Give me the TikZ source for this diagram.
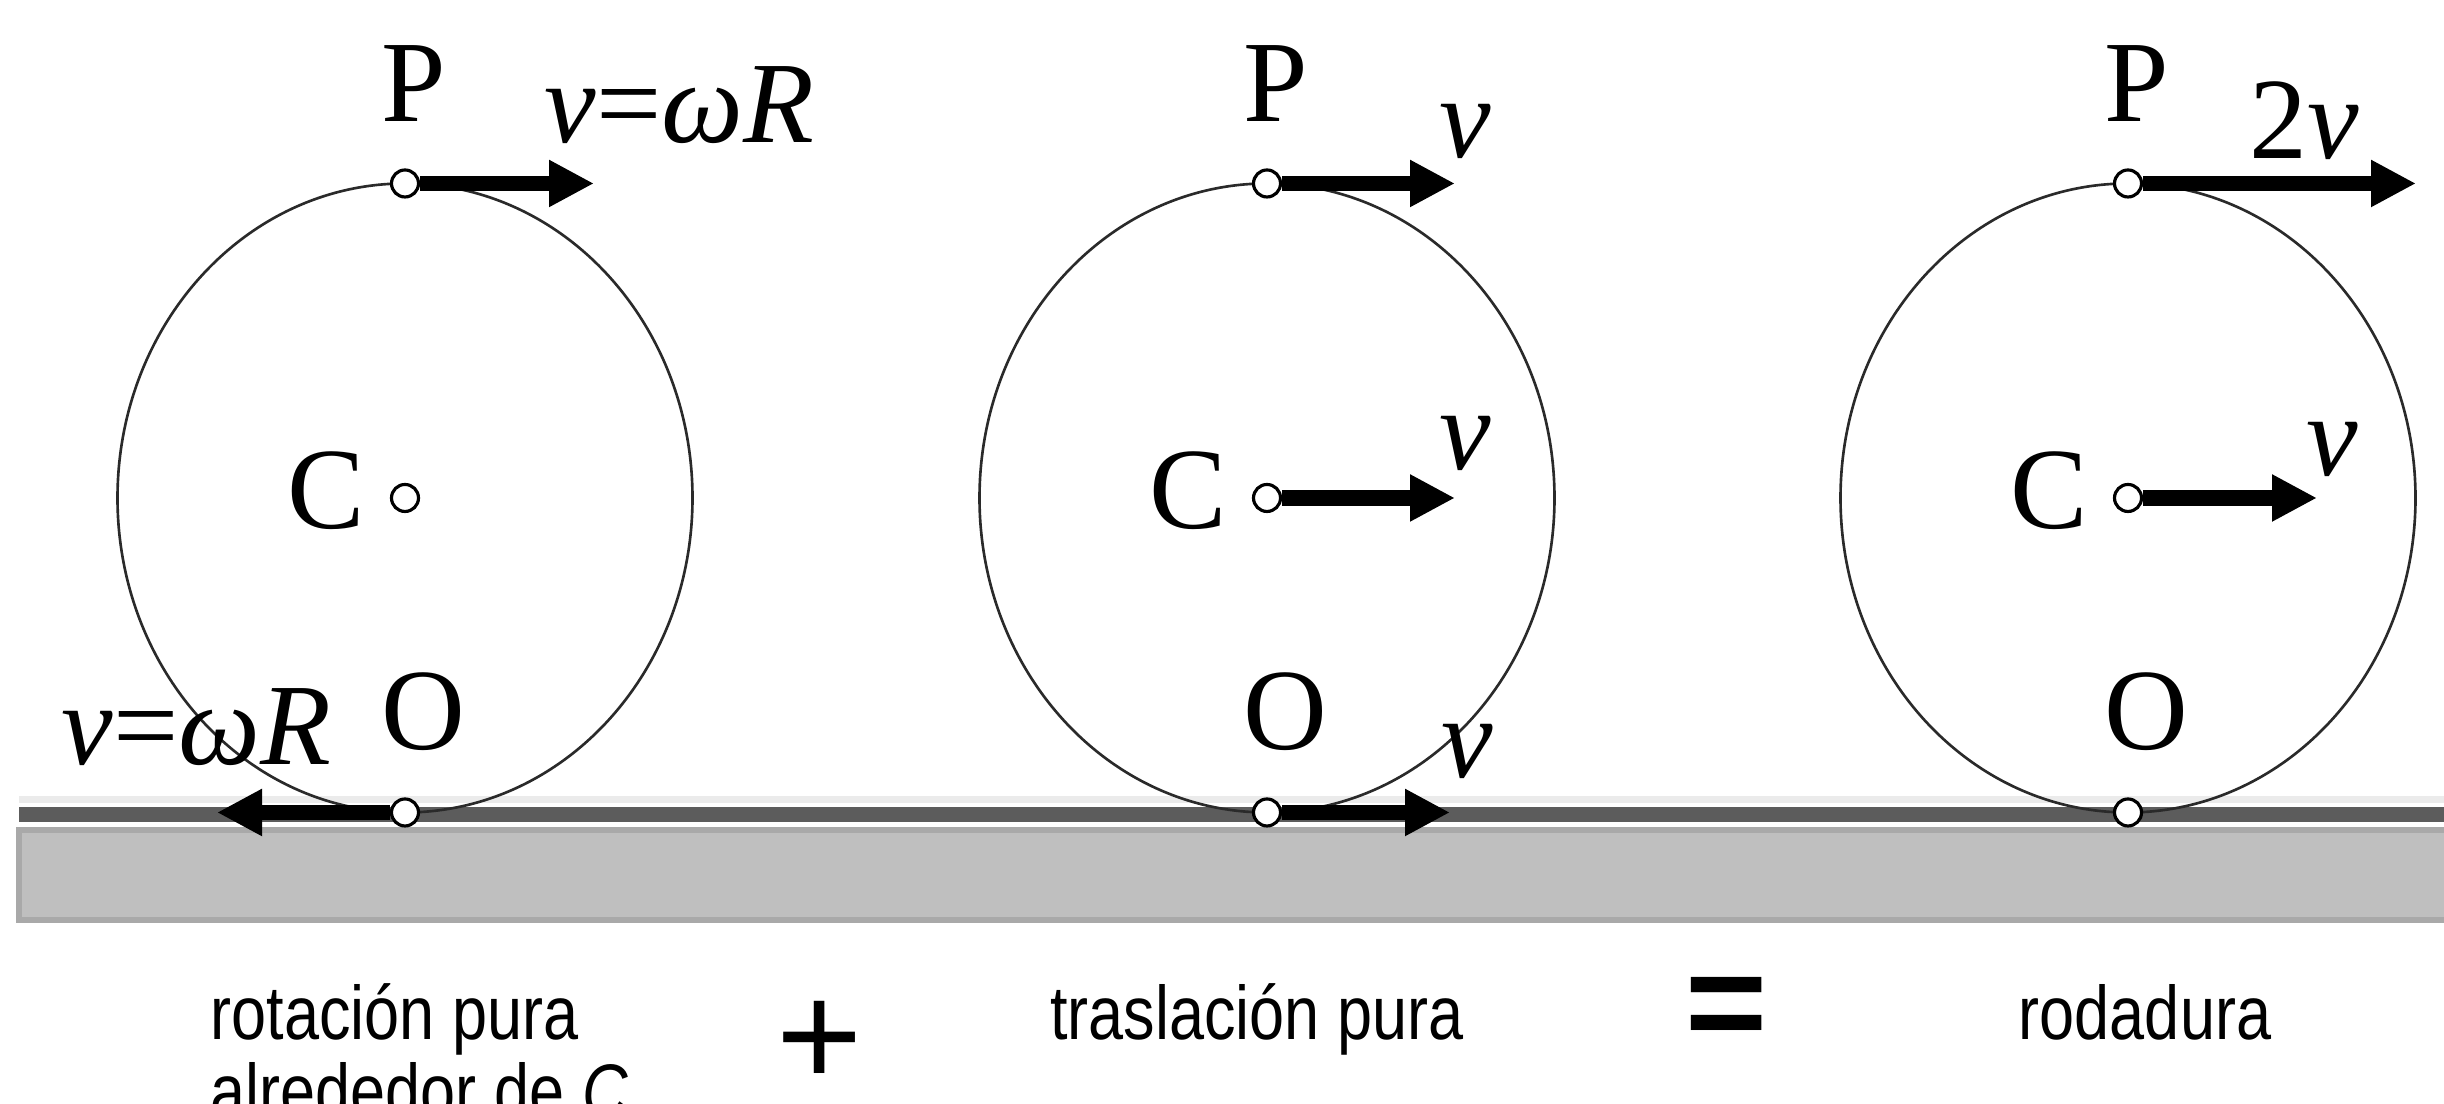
\documentclass[tikz,border=0pt]{standalone}
\usepackage{fontspec}
\setmainfont{Liberation Serif}
\newfontfamily\capfont[FakeStretch=0.83]{Liberation Sans}
\newfontfamily\signfont{Liberation Sans}
\usetikzlibrary{arrows.meta,positioning,shapes.geometric}
\definecolor{rdground}{HTML}{BFBFBF}
\definecolor{rdgroundedge}{HTML}{A9A9A9}
\definecolor{rdline}{HTML}{5C5C5C}
\definecolor{rdlight}{HTML}{EBEBEB}
\definecolor{rdrim}{HTML}{2A2A2A}
\tikzset{
 rim/.style={draw=rdrim, line width=0.75pt},
 pdot/.style={circle, draw=black, fill=white, line width=0.9pt,
 minimum size=0.27cm, inner sep=0pt},
 varrow/.style={-{Triangle[length=0.45cm,width=0.44cm]}, line width=0.155cm, draw=black},
 lbl/.style={inner sep=0pt, font={\fontsize{33}{38}\selectfont}},
 capt/.style={inner sep=0pt, font={\capfont\fontsize{21.6}{24}\selectfont}},
 sign/.style={inner sep=0pt, font={\signfont\fontsize{42}{46}\selectfont}},
 boldsign/.style={sign, font={\signfont\bfseries\fontsize{40}{44}\selectfont}},
}

\begin{document}
\begin{tikzpicture}
\useasboundingbox (0,0) rectangle (24.44,11.04);

% ,  Ground , , , , , , , , , , , , , -
\fill[rdground, draw=rdgroundedge, line width=1.5pt] (0.19,1.84) rectangle (24.8,2.74);
\fill[rdlight] (0.19,3.01) rectangle (24.8,3.08);
\fill[rdline] (0.19,2.82) rectangle (24.8,2.97);

% ,  Wheels with points P, C, O , , , , , , 
\foreach \n/\x in {1/4.05, 2/12.67, 3/21.28}{
  \draw[rim] (\x,6.06) ellipse [x radius=2.875, y radius=3.145];
  \node[pdot] (P\n) at (\x,9.205) {};
  \node[pdot] (C\n) at (\x,6.06) {};
  \node[pdot] (O\n) at (\x,2.915) {};
  \node[lbl, anchor=base] (lP\n) at (\x+0.09,9.82) {P};
  \node[lbl, anchor=base] (lC\n) at (\x-0.79,5.75) {C};
  \node[lbl, anchor=base] (lO\n) at (\x+0.18,3.54) {O};
}

% ,  Arrow ends , , , , , , , , , , , , 
\coordinate (eP1) at (5.94,9.205);
\coordinate (eO1) at (2.17,2.915);
\coordinate (eP2) at (14.55,9.205);
\coordinate (eC2) at (14.55,6.06);
\coordinate (eO2) at (14.50,2.915);
\coordinate (eP3) at (24.16,9.205);
\coordinate (eC3) at (23.17,6.06);

% Velocity arrows
\draw[varrow] (P1) -- (eP1);
\draw[varrow] (O1) -- (eO1);
\draw[varrow] (P2) -- (eP2);
\draw[varrow] (C2) -- (eC2);
\draw[varrow] (O2) -- (eO2);
\draw[varrow] (P3) -- (eP3);
\draw[varrow] (C3) -- (eC3);

% Velocity labels
\node[lbl, anchor=base west] (vP1) at (5.44,9.61) {\textit{v}=\textit{ωR}};
\node[lbl, anchor=base west] (vO1) at (0.61,3.39) {\textit{v}=\textit{ωR}};
\node[lbl, anchor=base] (vP2) at (14.65,9.46) {\textit{v}};
\node[lbl, anchor=base] (vC2) at (14.65,6.34) {\textit{v}};
\node[lbl, anchor=base] (vO2) at (14.67,3.26) {\textit{v}};
\node[lbl, anchor=base] (vP3) at (23.04,9.45) {2\textit{v}};
\node[lbl, anchor=base] (vC3) at (23.32,6.28) {\textit{v}};

% ,  Captions , , , , , , , , , , , , , 
\node[capt, anchor=base west] (rot) at (2.10,0.64) {rotación pura};
\node[capt, anchor=base west] (alr) at (2.10,-0.14) {alrededor de \textit{C}};
\node[sign] (plus) at (8.20,0.60) {+};
\node[capt, anchor=base] (tras) at (12.57,0.64) {traslación pura};
\node[boldsign] (eq) at (17.27,0.90) {=};
\node[capt, anchor=base] (rod) at (21.45,0.64) {rodadura};

\end{tikzpicture}
\end{document}
